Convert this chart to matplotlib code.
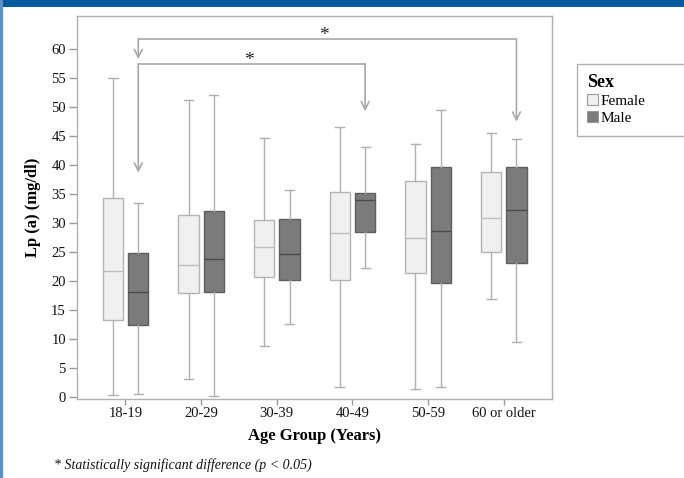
#======================================================================
# Lp(a) by age group and sex : grouped box plot with significance arrows
#======================================================================
import matplotlib
matplotlib.use("Agg")
import matplotlib.pyplot as plt
from matplotlib.patches import Rectangle, Patch

plt.rcParams['font.family'] = ['Liberation Serif', 'DejaVu Serif']

#--------------------------------------------------------------------------
# Data (mg/dl)
#--------------------------------------------------------------------------
age_groups = ['18-19', '20-29', '30-39', '40-49', '50-59', '60 or older']
series = ['Female', 'Male']

female_wlo = [0.3, 3.0, 8.8, 1.6, 1.4, 16.9]
female_q1 = [13.2, 17.9, 20.6, 20.1, 21.4, 25.0]
female_med = [21.7, 22.7, 25.9, 28.2, 27.4, 30.8]
female_q3 = [34.4, 31.3, 30.5, 35.4, 37.2, 38.8]
female_whi = [55.0, 51.2, 44.6, 46.5, 43.6, 45.6]

male_wlo = [0.5, 0.2, 12.5, 22.3, 1.6, 9.5]
male_q1 = [12.3, 18.1, 20.2, 28.4, 19.6, 23.1]
male_med = [18.0, 23.7, 24.6, 33.9, 28.7, 32.2]
male_q3 = [24.9, 32.0, 30.7, 35.2, 39.7, 39.7]
male_whi = [33.5, 52.1, 35.7, 43.1, 49.5, 44.5]

# significant comparisons: (from group, to group, bracket level, arrow tips)
sig_from = [0, 0]
sig_to = [5, 3]
sig_level = [61.8, 57.5]
sig_tip_from = [58.3, 38.7]
sig_tip_to = [47.5, 49.3]

#--------------------------------------------------------------------------
# Styles
#--------------------------------------------------------------------------
styles = {
    'Female': dict(face='#f0f0f0', edge='#b4b4b4', med='#bdbdbd', off=-0.165),
    'Male': dict(face='#7b7b7b', edge='#5e5e5e', med='#4a4a4a', off=0.17),
}
whisk_col = '#b0b0b0'
box_w = 0.27

def make_stats(wlo, q1, med, q3, whi):
    return [dict(whislo=a, q1=b, med=c, q3=d, whishi=e, fliers=[])
            for a, b, c, d, e in zip(wlo, q1, med, q3, whi)]

data = {
    'Female': make_stats(female_wlo, female_q1, female_med, female_q3, female_whi),
    'Male': make_stats(male_wlo, male_q1, male_med, male_q3, male_whi),
}

#--------------------------------------------------------------------------
# Plotting
#--------------------------------------------------------------------------
fig = plt.figure(figsize=(6.84, 4.78), dpi=100)
ax = fig.add_axes([77/684, 1-399/478, (552-77)/684, (399-16)/478])

for name in series:
    st = styles[name]
    pos = [i + st['off'] for i in range(len(age_groups))]
    ax.bxp(data[name], positions=pos, widths=box_w, patch_artist=True,
           showfliers=False, manage_ticks=False,
           boxprops=dict(facecolor=st['face'], edgecolor=st['edge'], linewidth=1),
           medianprops=dict(color=st['med'], linewidth=1),
           whiskerprops=dict(color=whisk_col, linewidth=1),
           capprops=dict(color=whisk_col, linewidth=1),
           capwidths=box_w*0.45)

# significance brackets (drawn at male box centres)
m_off = styles['Male']['off']
arr_col = '#a8a8a8'
for a, b, lev, ta, tb in zip(sig_from, sig_to, sig_level, sig_tip_from, sig_tip_to):
    xa, xb = a + m_off, b + m_off
    ax.plot([xa, xb], [lev, lev], color=arr_col, lw=1.2, solid_capstyle='butt')
    for x, tip in ((xa, ta), (xb, tb)):
        ax.annotate('', xy=(x, tip), xytext=(x, lev),
                    arrowprops=dict(arrowstyle='->', color=arr_col, lw=1.2,
                                    mutation_scale=14, shrinkA=0, shrinkB=0))
    ax.text((xa + xb) / 2 - 0.04, lev + 0.5, '*', ha='center', va='center',
            fontsize=14, color='#222222')

ax.set_xlim(-0.64, 5.64)
ax.set_ylim(-0.4, 65.75)
ax.set_xticks(range(len(age_groups)))
ax.set_xticklabels(age_groups)
ax.set_yticks(range(0, 61, 5))
ax.tick_params(axis='both', colors='#999999', labelcolor='#111111',
               labelsize=10.5, width=1)
ax.tick_params(axis='x', length=4, pad=1.5)
ax.tick_params(axis='y', length=6, pad=2)
for s in ax.spines.values():
    s.set_color('#b0b0b0')
    s.set_linewidth(1)

ax.set_xlabel('Age Group (Years)', fontsize=12, fontweight='bold', labelpad=6)
ax.set_ylabel('Lp (a) (mg/dl)', fontsize=12, fontweight='bold', labelpad=7)

# legend with its own frame
fig.patches.append(Rectangle((577/684, 1-136/478), 0.2, 72/478,
                             transform=fig.transFigure, facecolor='white',
                             edgecolor='#b0b0b0', lw=1))
handles = [Patch(facecolor=styles[n]['face'], edgecolor='#9a9a9a', lw=0.8) for n in series]
leg = fig.legend(handles, series, loc='upper left',
                 bbox_to_anchor=(576/684, 1-63/478), frameon=False,
                 fontsize=11, title='Sex', title_fontproperties=dict(weight='bold', size=13),
                 handlelength=0.75, handleheight=0.75, handletextpad=0.15,
                 labelspacing=0.2, borderpad=0.2, alignment='left')

# footnote
fig.text(54/684, 1-465/478, '* Statistically significant difference (p < 0.05)',
         fontsize=10, style='italic', va='center', ha='left', color='#111111')

# page decoration: blue header bar and left border
fig.patches.append(Rectangle((0, 1-7/478), 1, 7/478, transform=fig.transFigure,
                             facecolor='#005b9e', edgecolor='none'))
fig.patches.append(Rectangle((0, 0), 3/684, 1, transform=fig.transFigure,
                             facecolor='#5a8ec6', edgecolor='none'))

fig.savefig('out.png', dpi=100)
print("Completed Successfully ...")
